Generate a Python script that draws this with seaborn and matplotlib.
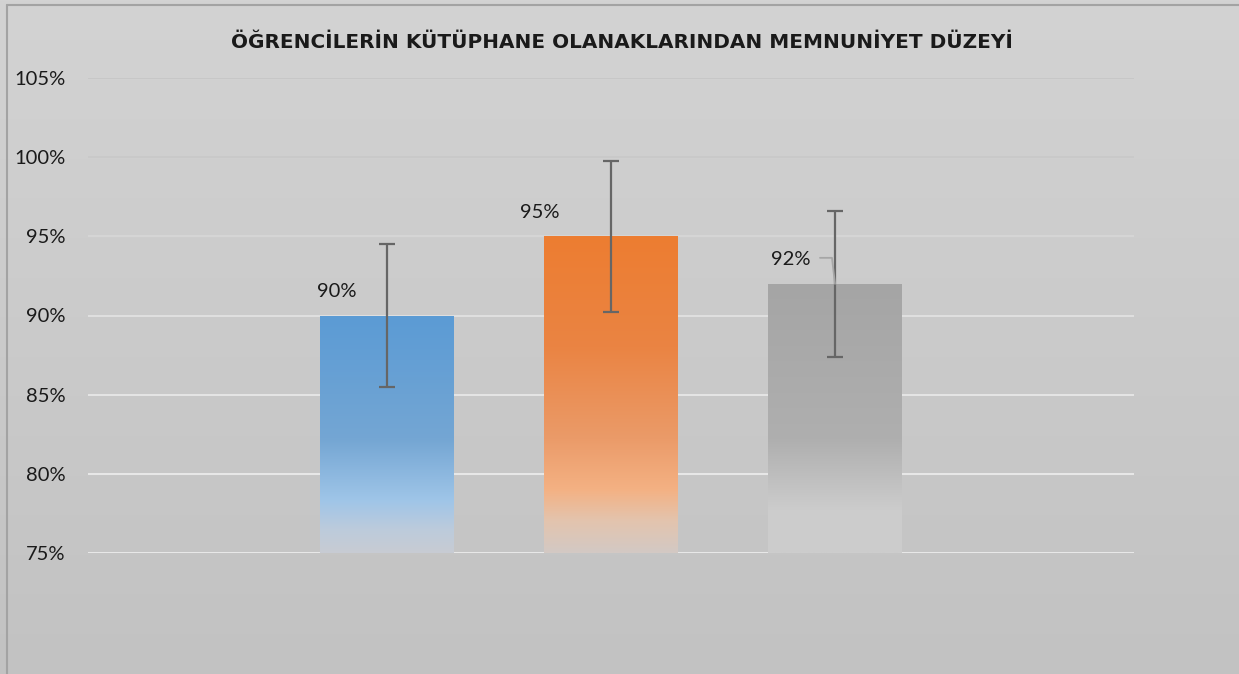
import numpy as np
import matplotlib
matplotlib.use("Agg")
import matplotlib.pyplot as plt
from matplotlib.colors import LinearSegmentedColormap, to_rgb
from matplotlib.lines import Line2D
import seaborn as sns

# --- Data
title = "ÖĞRENCİLERİN KÜTÜPHANE OLANAKLARINDAN MEMNUNİYET DÜZEYİ"
categories = ["A", "B", "C"]
values = [90, 95, 92]          # percent
errors = [4.5, 4.75, 4.6]      # 5 % of value
y_ticks = [75, 80, 85, 90, 95, 100, 105]

# --- Styles
base_colors = ["#5b9bd5", "#ed7d31", "#a5a5a5"]
bar_gradients = [
    [(0.0, "#5b9bd5"), (0.52, "#74a6d3"), (0.78, "#9fc5e8"), (0.9, "#bccbdc"), (1.0, "#c8ccd3")],
    [(0.0, "#ed7d31"), (0.35, "#ea8443"), (0.64, "#eb9b69"), (0.8, "#f4b183"),
     (0.9, "#e3c4ae"), (1.0, "#d3c9c4")],
    [(0.0, "#a5a5a5"), (0.58, "#afafaf"), (0.84, "#cccccc"), (1.0, "#cdcdcd")],
]
grid_colors = ["#ececec", "#ebebeb", "#e8e8e8", "#e2e2e2", "#d6d6d6", "#c9c9c9", "#c7c7c7"]

sns.set_theme(style="white")
plt.rcParams["font.family"] = ["Lato", "DejaVu Sans"]

W, H, DPI = 1239, 674, 100
fig = plt.figure(figsize=(W / DPI, H / DPI), dpi=DPI, facecolor="#cacaca")

# background gradient, placed pixel for pixel
top_c, bot_c = np.array(to_rgb("#d3d3d3")), np.array(to_rgb("#c2c2c2"))
t = np.linspace(0, 1, H)[:, None, None]
bg_img = np.broadcast_to(top_c * (1 - t) + bot_c * t, (H, W, 3)).copy()
fig.figimage(bg_img, 0, 0, origin="upper", zorder=-10)

# chart border (left and top edges visible)
fig.add_artist(Line2D([7 / W, 7 / W], [0, 1 - 5 / H], color="#a3a3a3", lw=1.5))
fig.add_artist(Line2D([7 / W, 1.01], [1 - 5 / H, 1 - 5 / H], color="#a3a3a3", lw=1.5))

ax = fig.add_axes([88 / W, 1 - 553 / H, (1134 - 88) / W, (553 - 78) / H])
ax.set_facecolor("none")

sns.barplot(x=categories, y=values, hue=categories, palette=base_colors,
            width=0.594, legend=False, ax=ax, zorder=2)

ax.set_yticks(y_ticks)
ax.set_yticklabels([f"{t}%" for t in y_ticks], fontsize=14.5, color="#1a1a1a")
ax.set_xticks([])
ax.set_xlabel("")
ax.set_ylabel("")
ax.tick_params(axis="y", length=0, pad=16)
for s in ax.spines.values():
    s.set_visible(False)

for tk, c in zip(y_ticks, grid_colors):
    ax.axhline(tk, color=c, lw=1.3, zorder=1)

# gradient fill inside each bar
centers = []
for patch, stops, v in zip(ax.patches, bar_gradients, values):
    x0 = patch.get_x()
    w = patch.get_width()
    centers.append(x0 + w / 2)
    cmap = LinearSegmentedColormap.from_list("g", stops)
    patch.set_facecolor("none")
    patch.set_edgecolor("none")
    im = ax.imshow(np.linspace(0, 1, 256).reshape(-1, 1), aspect="auto", cmap=cmap,
                   extent=[x0, x0 + w, 75, v], origin="upper", zorder=2)
    im.set_clip_path(patch)

ax.set_xlim(-1.335, 3.335)
ax.set_ylim(75, 105)

ax.errorbar(centers, values, yerr=errors, fmt="none", ecolor="#666666",
            elinewidth=1.6, capsize=6, capthick=1.6, zorder=4)

# data labels (manually shifted left like the original)
label_offsets = [(-50, 24), (-71, 24), (-44, 24)]
for cx, v, (dx, dy) in zip(centers, values, label_offsets):
    ax.annotate(f"{v}%", (cx, v), xytext=(dx * 0.72, dy * 0.72), textcoords="offset points",
                ha="center", va="center", fontsize=14.5, color="#1a1a1a", zorder=5)

# leader line for the third label, in pixel space from the bar top
base = ax.transData.transform((centers[2], values[2]))
pts_x = [-15, -3, 0]
pts_y = [26, 26, 0]
fig.add_artist(Line2D([base[0] + x for x in pts_x], [base[1] + y for y in pts_y],
                      color="#a6a6a6", lw=1.3, zorder=3, transform=None))

# title: the original is spaced out, so use a wide bold face scaled to its width
ttl = fig.text(622 / W, 1 - 42 / H, title, ha="center", va="center",
               fontsize=13, fontweight="bold", color="#1a1a1a",
               family=["DejaVu Sans"])
renderer = fig.canvas.get_renderer()
tw = ttl.get_window_extent(renderer).width
ttl.set_fontsize(13 * 775 / tw)

fig.savefig("out.png", dpi=DPI, facecolor=fig.get_facecolor())
